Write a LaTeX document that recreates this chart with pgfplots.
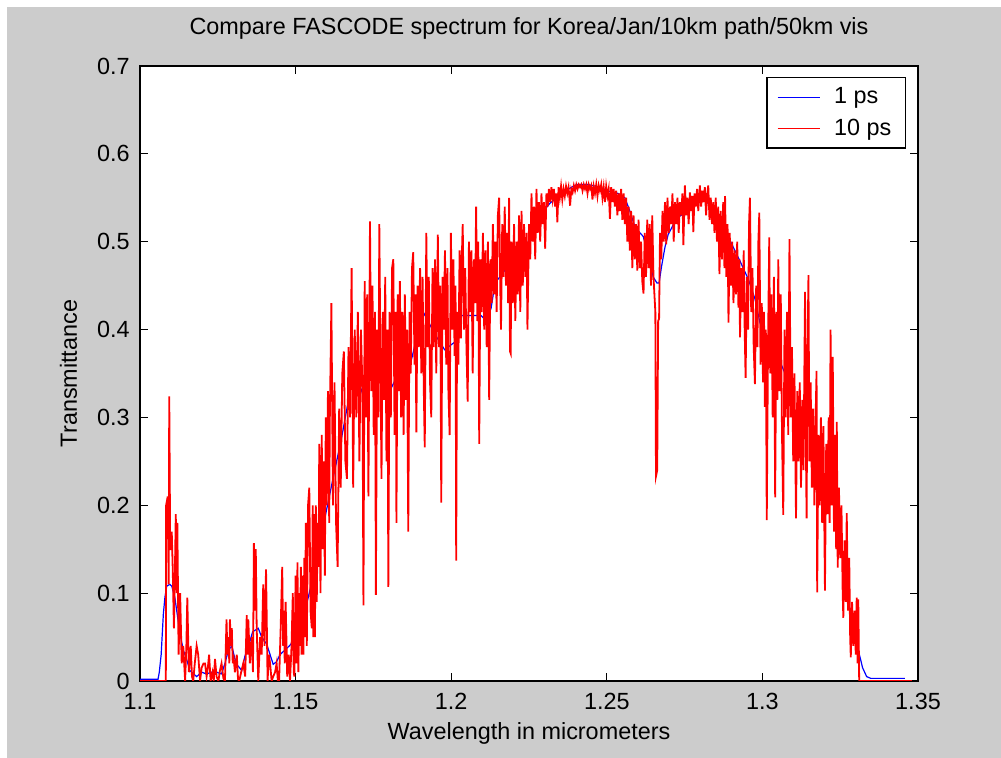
\documentclass[border=0pt]{standalone}
\usepackage{fontspec}
\setmainfont{Liberation Sans}
\usepackage{pgfplots}
\pgfplotsset{compat=1.18}
\definecolor{figbg}{RGB}{204,204,204}

\begin{document}
\begin{tikzpicture}
\fill[white] (0,0) rectangle (500.5pt,379pt);
\fill[figbg] (3.5pt,0) rectangle (500.5pt,375.5pt);
\begin{axis}[
  at={(70pt,38.5pt)}, anchor=south west,
  scale only axis, width=389pt, height=307.5pt,
  xmin=1.1, xmax=1.35, ymin=0, ymax=0.7,
  axis background/.style={fill=white},
  axis line style={line width=0.6pt},
  tick align=inside, major tick length=4pt,
  every tick/.style={black, line width=0.6pt},
  xtick pos=both, ytick pos=both,
  xtick={1.1,1.15,1.2,1.25,1.3,1.35},
  xticklabels={1.1,1.15,1.2,1.25,1.3,1.35},
  ytick={0,0.1,0.2,0.3,0.4,0.5,0.6,0.7},
  yticklabels={0,0.1,0.2,0.3,0.4,0.5,0.6,0.7},
  font=\fontsize{11.7pt}{13pt}\selectfont,
  xticklabel style={anchor=base, inner sep=0pt, yshift=-14.5pt},
  yticklabel style={anchor=east, inner sep=0pt, xshift=-5pt},
  title={Compare FASCODE spectrum for Korea/Jan/10km path/50km vis},
  title style={at={(0.5,1)}, anchor=base, inner sep=0pt, yshift=9.5pt},
  xlabel={Wavelength in micrometers},
  xlabel style={at={(0.5,0)}, anchor=base, inner sep=0pt, yshift=-29.5pt},
  ylabel={Transmittance},
  ylabel style={at={(0,0.5)}, anchor=base, inner sep=0pt, yshift=31.5pt},
  legend style={at={(1,1)}, anchor=north east, xshift=-6pt, yshift=-5.5pt,
    draw=black, line width=0.6pt, fill=white, inner xsep=5pt, inner ysep=3pt,
    row sep=2pt, font=\fontsize{11.7pt}{13pt}\selectfont,
    /tikz/every odd column/.append style={column sep=5pt}},
  legend cell align=left,
  legend image code/.code={\draw[#1, line width=0.6pt] (0pt,0pt) -- (21pt,0pt);},
]
\addplot[blue, line width=0.6pt] table {
1.1000 0.002
1.1058 0.002
1.1062 0.010
1.1068 0.030
1.1075 0.076
1.1080 0.095
1.1086 0.108
1.1096 0.110
1.1102 0.108
1.1112 0.095
1.1118 0.080
1.1128 0.055
1.1139 0.035
1.1148 0.027
1.1160 0.012
1.1182 0.005
1.1198 0.010
1.1214 0.008
1.1230 0.010
1.1246 0.010
1.1262 0.008
1.1273 0.020
1.1284 0.035
1.1295 0.040
1.1305 0.025
1.1313 0.018
1.1327 0.012
1.1337 0.028
1.1353 0.045
1.1362 0.056
1.1380 0.060
1.1391 0.050
1.1407 0.042
1.1418 0.030
1.1428 0.019
1.1439 0.022
1.1450 0.030
1.1480 0.040
1.1505 0.050
1.1520 0.064
1.1559 0.123
1.1585 0.170
1.1620 0.230
1.1649 0.279
1.1675 0.330
1.1694 0.350
1.1718 0.324
1.1745 0.371
1.1769 0.369
1.1787 0.348
1.1803 0.330
1.1819 0.342
1.1840 0.359
1.1862 0.350
1.1885 0.385
1.1910 0.420
1.1947 0.395
1.1979 0.377
1.2016 0.387
1.2032 0.416
1.2096 0.416
1.2112 0.410
1.2128 0.424
1.2141 0.453
1.2200 0.480
1.2245 0.498
1.2285 0.530
1.2318 0.544
1.2371 0.559
1.2403 0.565
1.2440 0.565
1.2478 0.562
1.2510 0.557
1.2536 0.555
1.2558 0.550
1.2575 0.534
1.2591 0.516
1.2617 0.506
1.2639 0.477
1.2649 0.460
1.2661 0.453
1.2668 0.453
1.2676 0.472
1.2687 0.494
1.2697 0.508
1.2725 0.527
1.2757 0.534
1.2789 0.546
1.2809 0.548
1.2832 0.542
1.2848 0.527
1.2891 0.505
1.2928 0.478
1.2955 0.457
1.2976 0.435
1.2992 0.408
1.3012 0.386
1.3025 0.379
1.3041 0.377
1.3062 0.359
1.3076 0.347
1.3087 0.334
1.3110 0.295
1.3121 0.291
1.3137 0.293
1.3151 0.291
1.3162 0.273
1.3201 0.230
1.3237 0.207
1.3247 0.171
1.3260 0.140
1.3271 0.099
1.3284 0.076
1.3294 0.060
1.3311 0.031
1.3322 0.015
1.3335 0.005
1.3348 0.003
1.3458 0.003
};
\addlegendentry{1 ps}
\addplot[red, line width=0.9pt] table {
1.1000 0.000
1.1083 0.000
1.1084 0.200
1.1089 0.210
1.1092 0.110
1.1094 0.324
1.1097 0.150
1.1099 0.150
1.1102 0.170
1.1105 0.130
1.1109 0.060
1.1112 0.120
1.1115 0.190
1.1118 0.100
1.1120 0.180
1.1124 0.030
1.1129 0.100
1.1134 0.020
1.1139 0.040
1.1145 0.000
1.1149 0.040
1.1152 0.095
1.1157 0.010
1.1163 0.040
1.1167 0.005
1.1171 0.000
1.1176 0.020
1.1182 0.040
1.1187 0.030
1.1193 0.000
1.1198 0.015
1.1204 0.020
1.1209 0.020
1.1214 0.005
1.1218 0.015
1.1222 0.030
1.1227 0.000
1.1233 0.010
1.1237 0.000
1.1241 0.025
1.1246 0.005
1.1252 0.000
1.1257 0.012
1.1262 0.020
1.1268 0.003
1.1273 0.000
1.1278 0.070
1.1281 0.030
1.1284 0.050
1.1287 0.020
1.1289 0.070
1.1292 0.040
1.1295 0.060
1.1298 0.020
1.1300 0.030
1.1305 0.010
1.1311 0.030
1.1315 0.002
1.1319 0.000
1.1325 0.010
1.1332 0.020
1.1338 0.005
1.1343 0.075
1.1346 0.030
1.1348 0.070
1.1353 0.020
1.1359 0.050
1.1363 0.010
1.1366 0.157
1.1369 0.080
1.1372 0.150
1.1375 0.060
1.1380 0.000
1.1386 0.050
1.1391 0.030
1.1396 0.110
1.1400 0.040
1.1405 0.127
1.1410 0.000
1.1414 0.030
1.1418 0.020
1.1423 0.000
1.1428 0.005
1.1434 0.010
1.1439 0.020
1.1443 0.000
1.1447 0.000
1.1452 0.060
1.1457 0.130
1.1460 0.040
1.1463 0.080
1.1465 0.020
1.1468 0.090
1.1473 0.005
1.1478 0.030
1.1482 0.000
1.1487 0.040
1.1491 0.100
1.1494 0.010
1.1496 0.005
1.1500 0.120
1.1503 0.020
1.1506 0.135
1.1509 0.010
1.1512 0.100
1.1514 0.040
1.1517 0.130
1.1519 0.030
1.1522 0.120
1.1525 0.030
1.1528 0.140
1.1530 0.050
1.1533 0.180
1.1536 0.040
1.1540 0.200
1.1544 0.220
1.1548 0.080
1.1552 0.060
1.1555 0.200
1.1557 0.050
1.1560 0.190
1.1562 0.050
1.1565 0.200
1.1568 0.090
1.1571 0.180
1.1574 0.130
1.1576 0.270
1.1580 0.100
1.1584 0.280
1.1587 0.150
1.1590 0.250
1.1594 0.120
1.1597 0.300
1.1600 0.200
1.1604 0.330
1.1608 0.180
1.1610 0.300
1.1615 0.430
1.1620 0.200
1.1625 0.340
1.1630 0.180
1.1635 0.130
1.1640 0.310
1.1645 0.220
1.1650 0.350
1.1655 0.375
1.1660 0.250
1.1665 0.230
1.1670 0.380
1.1675 0.300
1.1680 0.470
1.1685 0.220
1.1690 0.400
1.1695 0.300
1.1700 0.420
1.1705 0.250
1.1710 0.400
1.1715 0.330
1.1718 0.086
1.1722 0.455
1.1726 0.300
1.1730 0.440
1.1734 0.210
1.1739 0.523
1.1743 0.330
1.1747 0.450
1.1751 0.280
1.1755 0.420
1.1758 0.098
1.1762 0.400
1.1766 0.300
1.1769 0.520
1.1773 0.350
1.1776 0.230
1.1780 0.420
1.1784 0.320
1.1788 0.460
1.1792 0.250
1.1795 0.400
1.1798 0.107
1.1802 0.420
1.1806 0.300
1.1810 0.470
1.1814 0.480
1.1818 0.280
1.1822 0.420
1.1824 0.180
1.1828 0.440
1.1832 0.330
1.1835 0.455
1.1839 0.300
1.1843 0.420
1.1847 0.280
1.1851 0.440
1.1855 0.320
1.1858 0.400
1.1862 0.170
1.1866 0.420
1.1870 0.350
1.1874 0.470
1.1878 0.488
1.1882 0.360
1.1885 0.440
1.1888 0.283
1.1892 0.450
1.1896 0.380
1.1900 0.470
1.1904 0.350
1.1908 0.460
1.1912 0.330
1.1915 0.266
1.1920 0.510
1.1924 0.380
1.1928 0.460
1.1932 0.340
1.1936 0.300
1.1940 0.470
1.1944 0.380
1.1948 0.480
1.1952 0.350
1.1957 0.508
1.1961 0.380
1.1965 0.450
1.1968 0.203
1.1972 0.460
1.1976 0.400
1.1980 0.490
1.1984 0.360
1.1988 0.470
1.1991 0.330
1.1995 0.280
1.1999 0.510
1.2003 0.400
1.2007 0.480
1.2011 0.370
1.2014 0.450
1.2016 0.137
1.2019 0.420
1.2023 0.360
1.2027 0.490
1.2031 0.390
1.2034 0.480
1.2037 0.520
1.2041 0.400
1.2045 0.470
1.2049 0.380
1.2053 0.318
1.2057 0.500
1.2061 0.420
1.2065 0.490
1.2069 0.350
1.2073 0.480
1.2077 0.430
1.2080 0.540
1.2084 0.410
1.2087 0.500
1.2090 0.270
1.2094 0.480
1.2098 0.420
1.2102 0.510
1.2106 0.400
1.2110 0.490
1.2114 0.380
1.2118 0.500
1.2122 0.320
1.2126 0.480
1.2130 0.430
1.2134 0.520
1.2138 0.440
1.2142 0.500
1.2146 0.420
1.2150 0.530
1.2154 0.550
1.2158 0.440
1.2160 0.400
1.2164 0.520
1.2168 0.460
1.2172 0.540
1.2176 0.450
1.2180 0.510
1.2183 0.430
1.2186 0.550
1.2189 0.375
1.2191 0.373
1.2194 0.500
1.2198 0.430
1.2202 0.520
1.2206 0.410
1.2210 0.500
1.2214 0.440
1.2218 0.530
1.2222 0.420
1.2226 0.535
1.2230 0.450
1.2234 0.520
1.2238 0.460
1.2242 0.510
1.2245 0.400
1.2250 0.520
1.2254 0.480
1.2258 0.555
1.2262 0.500
1.2266 0.540
1.2270 0.480
1.2274 0.560
1.2278 0.510
1.2282 0.545
1.2286 0.500
1.2290 0.555
1.2294 0.520
1.2298 0.545
1.2302 0.492
1.2306 0.555
1.2310 0.540
1.2314 0.560
1.2318 0.545
1.2322 0.562
1.2326 0.548
1.2330 0.560
1.2334 0.540
1.2338 0.555
1.2341 0.522
1.2345 0.562
1.2349 0.550
1.2353 0.563
1.2357 0.548
1.2361 0.560
1.2365 0.552
1.2369 0.563
1.2373 0.555
1.2377 0.562
1.2382 0.541
1.2386 0.560
1.2390 0.556
1.2394 0.564
1.2398 0.558
1.2402 0.565
1.2406 0.560
1.2410 0.565
1.2414 0.562
1.2418 0.565
1.2422 0.558
1.2426 0.565
1.2430 0.560
1.2434 0.565
1.2438 0.555
1.2442 0.565
1.2446 0.560
1.2450 0.564
1.2454 0.548
1.2458 0.563
1.2462 0.555
1.2466 0.565
1.2470 0.552
1.2474 0.564
1.2478 0.558
1.2482 0.565
1.2486 0.550
1.2490 0.562
1.2494 0.545
1.2498 0.563
1.2502 0.552
1.2506 0.560
1.2510 0.526
1.2514 0.562
1.2518 0.545
1.2522 0.560
1.2526 0.540
1.2530 0.558
1.2534 0.530
1.2538 0.555
1.2542 0.535
1.2546 0.560
1.2550 0.525
1.2554 0.555
1.2558 0.520
1.2562 0.550
1.2566 0.500
1.2570 0.540
1.2574 0.490
1.2578 0.535
1.2582 0.470
1.2586 0.530
1.2590 0.480
1.2594 0.520
1.2598 0.467
1.2602 0.525
1.2606 0.470
1.2610 0.500
1.2614 0.455
1.2618 0.441
1.2622 0.510
1.2626 0.460
1.2630 0.525
1.2634 0.470
1.2638 0.520
1.2642 0.450
1.2646 0.530
1.2650 0.460
1.2653 0.440
1.2656 0.420
1.2658 0.233
1.2662 0.240
1.2665 0.410
1.2668 0.412
1.2671 0.510
1.2675 0.480
1.2679 0.535
1.2683 0.500
1.2687 0.545
1.2691 0.497
1.2695 0.550
1.2699 0.510
1.2703 0.540
1.2707 0.520
1.2711 0.555
1.2715 0.500
1.2719 0.545
1.2723 0.520
1.2727 0.550
1.2731 0.510
1.2735 0.545
1.2739 0.530
1.2743 0.555
1.2746 0.496
1.2751 0.564
1.2755 0.530
1.2759 0.550
1.2763 0.520
1.2767 0.556
1.2771 0.535
1.2775 0.552
1.2778 0.511
1.2782 0.555
1.2786 0.540
1.2790 0.560
1.2794 0.535
1.2799 0.564
1.2803 0.540
1.2807 0.558
1.2811 0.545
1.2815 0.562
1.2819 0.530
1.2823 0.555
1.2826 0.564
1.2830 0.525
1.2834 0.550
1.2838 0.520
1.2842 0.545
1.2846 0.510
1.2850 0.550
1.2854 0.500
1.2858 0.540
1.2862 0.463
1.2866 0.535
1.2870 0.480
1.2874 0.545
1.2878 0.470
1.2880 0.552
1.2884 0.460
1.2888 0.520
1.2891 0.408
1.2895 0.510
1.2899 0.450
1.2903 0.500
1.2907 0.430
1.2911 0.490
1.2915 0.440
1.2919 0.500
1.2923 0.425
1.2926 0.480
1.2928 0.391
1.2932 0.470
1.2936 0.420
1.2940 0.490
1.2943 0.400
1.2946 0.345
1.2950 0.460
1.2954 0.400
1.2957 0.520
1.2960 0.550
1.2964 0.420
1.2968 0.470
1.2972 0.380
1.2976 0.338
1.2980 0.450
1.2984 0.380
1.2987 0.500
1.2990 0.533
1.2994 0.360
1.2998 0.430
1.3002 0.340
1.3005 0.420
1.3008 0.312
1.3011 0.400
1.3014 0.183
1.3018 0.380
1.3022 0.505
1.3025 0.350
1.3029 0.440
1.3033 0.300
1.3037 0.460
1.3041 0.209
1.3045 0.420
1.3048 0.320
1.3051 0.480
1.3055 0.330
1.3059 0.440
1.3063 0.280
1.3067 0.189
1.3071 0.400
1.3075 0.300
1.3079 0.420
1.3083 0.280
1.3087 0.503
1.3091 0.300
1.3095 0.380
1.3099 0.250
1.3103 0.350
1.3108 0.185
1.3112 0.330
1.3116 0.250
1.3120 0.340
1.3124 0.220
1.3128 0.320
1.3132 0.240
1.3137 0.443
1.3140 0.260
1.3142 0.185
1.3145 0.380
1.3148 0.462
1.3151 0.250
1.3155 0.340
1.3159 0.220
1.3163 0.310
1.3167 0.200
1.3171 0.300
1.3174 0.353
1.3176 0.101
1.3180 0.280
1.3184 0.200
1.3188 0.300
1.3192 0.180
1.3196 0.290
1.3201 0.103
1.3205 0.270
1.3209 0.190
1.3213 0.300
1.3216 0.180
1.3219 0.400
1.3223 0.200
1.3226 0.369
1.3230 0.170
1.3234 0.280
1.3237 0.150
1.3239 0.295
1.3242 0.129
1.3246 0.220
1.3250 0.140
1.3254 0.200
1.3258 0.100
1.3260 0.072
1.3264 0.160
1.3268 0.090
1.3271 0.191
1.3275 0.080
1.3279 0.140
1.3282 0.050
1.3284 0.027
1.3288 0.090
1.3292 0.040
1.3296 0.080
1.3300 0.030
1.3303 0.095
1.3306 0.020
1.3308 0.093
1.3311 0.000
1.3314 0.000
1.3480 0.000
};
\addlegendentry{10 ps}
\end{axis}
\end{tikzpicture}
\end{document}
